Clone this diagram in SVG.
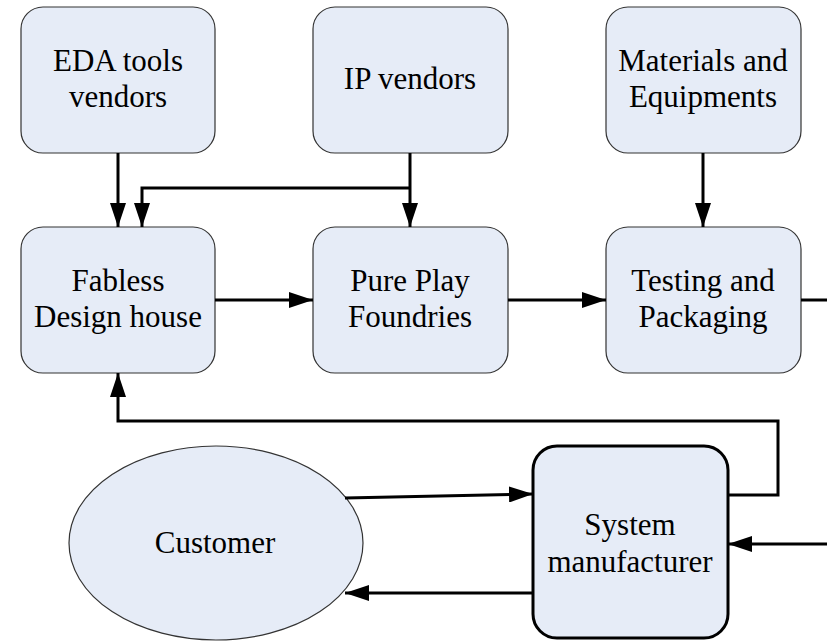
<svg xmlns="http://www.w3.org/2000/svg" width="827" height="642" viewBox="0 0 827 642">
<defs>
<style>
.box{fill:#E6ECF7;stroke:#333;stroke-width:1.2}
.sys{fill:#E6ECF7;stroke:#000;stroke-width:3}
.t{font-family:'Liberation Serif','Times New Roman',serif;font-size:31px;fill:#000;text-anchor:middle}
.c{fill:none;stroke:#000;stroke-width:3}
</style>
<marker id="ah" viewBox="0 0 24 16" refX="24" refY="8" markerWidth="24" markerHeight="16" markerUnits="userSpaceOnUse" orient="auto">
<path d="M0,0 L24,8 L0,16 Z" fill="#000"/>
</marker>
</defs>
<rect width="827" height="642" fill="#fff"/>
<g id="eda"><rect class="box" x="21" y="7" width="194" height="146" rx="22"/><text class="t" x="118" y="71">EDA tools</text><text class="t" x="118" y="107">vendors</text></g>
<g id="ip"><rect class="box" x="313" y="7" width="195" height="146" rx="22"/><text class="t" x="410" y="89">IP vendors</text></g>
<g id="materials"><rect class="box" x="606" y="7" width="195" height="146" rx="22"/><text class="t" x="703" y="71">Materials and</text><text class="t" x="703" y="107">Equipments</text></g>
<g id="fabless"><rect class="box" x="21" y="227" width="194" height="146" rx="22"/><text class="t" x="118" y="291">Fabless</text><text class="t" x="118" y="327">Design house</text></g>
<g id="foundries"><rect class="box" x="313" y="227" width="195" height="146" rx="22"/><text class="t" x="410" y="291">Pure Play</text><text class="t" x="410" y="327">Foundries</text></g>
<g id="testing"><rect class="box" x="606" y="227" width="195" height="146" rx="22"/><text class="t" x="703" y="291">Testing and</text><text class="t" x="703" y="327">Packaging</text></g>
<g id="customer"><ellipse class="box" cx="216" cy="543" rx="147" ry="97"/><text class="t" x="215" y="553">Customer</text></g>
<g id="system"><rect class="sys" x="533" y="446" width="195" height="192" rx="24"/><text class="t" x="630" y="535">System</text><text class="t" x="630" y="572">manufacturer</text></g>
<g id="connectors">
<path class="c" d="M118,153 V227" marker-end="url(#ah)"/>
<path class="c" d="M410,153 V227" marker-end="url(#ah)"/>
<path class="c" d="M410,188 H142 V227" marker-end="url(#ah)"/>
<path class="c" d="M703,153 V227" marker-end="url(#ah)"/>
<path class="c" d="M215,300 H313" marker-end="url(#ah)"/>
<path class="c" d="M508,300 H606" marker-end="url(#ah)"/>
<path class="c" d="M801,300 H827"/>
<path class="c" d="M728,495 H778 V421 H118 V373" marker-end="url(#ah)"/>
<path class="c" d="M345,498 L533,494" marker-end="url(#ah)"/>
<path class="c" d="M533,593 H345" marker-end="url(#ah)"/>
<path class="c" d="M827,544 H728" marker-end="url(#ah)"/>
</g>
</svg>
